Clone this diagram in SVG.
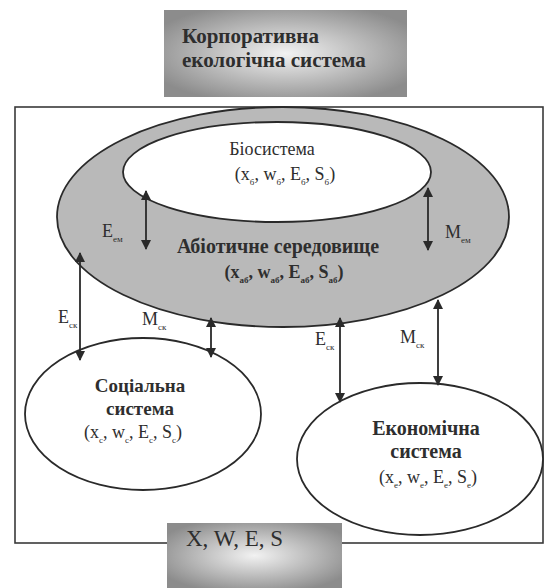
<svg xmlns="http://www.w3.org/2000/svg" width="548" height="588" viewBox="0 0 548 588">
<defs>
<radialGradient id="boxg" cx="50%" cy="50%" r="60%">
<stop offset="0" stop-color="#f2f2f2"/>
<stop offset="0.45" stop-color="#c4c4c4"/>
<stop offset="1" stop-color="#8c8c8c"/>
</radialGradient>
<marker id="ah" viewBox="0 0 10 10" refX="9" refY="5" markerWidth="10" markerHeight="10" markerUnits="userSpaceOnUse" orient="auto-start-reverse">
<path d="M0,0 L10,5 L0,10 z" fill="#2a2a2a"/>
</marker>
<style>
text{font-family:"Liberation Serif","Times New Roman",serif;fill:#2e2e2e}
.b{font-weight:bold}
.sub{font-size:9px}
.edge{stroke:#2a2a2a;stroke-width:1.8;fill:none}
.ol{stroke:#2a2a2a;stroke-width:1.8}
</style>
</defs>
<rect width="548" height="588" fill="#ffffff"/>

<g id="frame">
<rect x="15" y="107" width="528" height="436" fill="none" stroke="#3a3a3a" stroke-width="1.6"/>
</g>

<g id="top-box">
<rect x="164" y="10" width="243" height="87" fill="url(#boxg)"/>
<text class="b" x="182" y="43" font-size="21">Корпоративна</text>
<text class="b" x="182" y="67" font-size="21">екологічна система</text>
</g>

<g id="abiotic">
<ellipse cx="283" cy="217" rx="226" ry="110" fill="#b9b9b9" class="ol"/>
<text class="b" x="278" y="253" font-size="20" text-anchor="middle">Абіотичне  середовище</text>
<text class="b" x="284" y="278" font-size="18" text-anchor="middle">(x<tspan class="sub" dy="5">аб</tspan><tspan dy="-5">, w</tspan><tspan class="sub" dy="5">аб</tspan><tspan dy="-5">, E</tspan><tspan class="sub" dy="5">аб</tspan><tspan dy="-5">, S</tspan><tspan class="sub" dy="5">аб</tspan><tspan dy="-5">)</tspan></text>
</g>

<g id="biosystem">
<ellipse cx="277" cy="172" rx="154" ry="50" fill="#ffffff" class="ol"/>
<text x="272" y="155" font-size="18" text-anchor="middle">Біосистема</text>
<text x="285" y="180" font-size="18" text-anchor="middle">(x<tspan class="sub" dy="5">б</tspan><tspan dy="-5">, w</tspan><tspan class="sub" dy="5">б</tspan><tspan dy="-5">, E</tspan><tspan class="sub" dy="5">б</tspan><tspan dy="-5">, S</tspan><tspan class="sub" dy="5">б</tspan><tspan dy="-5">)</tspan></text>
</g>

<g id="social">
<ellipse cx="143" cy="414" rx="118" ry="76" fill="#ffffff" class="ol"/>
<text class="b" x="140" y="392" font-size="19" text-anchor="middle">Соціальна</text>
<text class="b" x="140" y="415" font-size="19" text-anchor="middle">система</text>
<text x="133" y="438" font-size="18" text-anchor="middle">(x<tspan class="sub" dy="5">с</tspan><tspan dy="-5">, w</tspan><tspan class="sub" dy="5">с</tspan><tspan dy="-5">, E</tspan><tspan class="sub" dy="5">с</tspan><tspan dy="-5">, S</tspan><tspan class="sub" dy="5">с</tspan><tspan dy="-5">)</tspan></text>
</g>

<g id="economic">
<ellipse cx="420" cy="459" rx="123" ry="76" fill="#ffffff" class="ol"/>
<text class="b" x="426" y="435" font-size="20" text-anchor="middle">Економічна</text>
<text class="b" x="426" y="458" font-size="20" text-anchor="middle">система</text>
<text x="428" y="483" font-size="18" text-anchor="middle">(x<tspan class="sub" dy="5">е</tspan><tspan dy="-5">, w</tspan><tspan class="sub" dy="5">е</tspan><tspan dy="-5">, E</tspan><tspan class="sub" dy="5">е</tspan><tspan dy="-5">, S</tspan><tspan class="sub" dy="5">е</tspan><tspan dy="-5">)</tspan></text>
</g>

<g id="bottom-box">
<rect x="167" y="523" width="175" height="65" fill="url(#boxg)"/>
<text x="186" y="546" font-size="23">X, W, E, S</text>
</g>

<g id="connectors">
<line class="edge" x1="146" y1="191" x2="146" y2="249" marker-start="url(#ah)" marker-end="url(#ah)"/>
<line class="edge" x1="428" y1="188" x2="428" y2="250" marker-start="url(#ah)" marker-end="url(#ah)"/>
<line class="edge" x1="80" y1="253" x2="80" y2="360" marker-start="url(#ah)" marker-end="url(#ah)"/>
<line class="edge" x1="211" y1="318" x2="211" y2="357" marker-start="url(#ah)" marker-end="url(#ah)"/>
<line class="edge" x1="340" y1="318" x2="340" y2="402" marker-start="url(#ah)" marker-end="url(#ah)"/>
<line class="edge" x1="438" y1="300" x2="438" y2="385" marker-start="url(#ah)" marker-end="url(#ah)"/>
<text x="102" y="237" font-size="18">E<tspan class="sub" dy="5">ем</tspan></text>
<text x="445" y="238" font-size="18">M<tspan class="sub" dy="5">ем</tspan></text>
<text x="58" y="323" font-size="18">E<tspan class="sub" dy="5">ск</tspan></text>
<text x="142" y="325" font-size="18">M<tspan class="sub" dy="5">ск</tspan></text>
<text x="315" y="345" font-size="18">E<tspan class="sub" dy="5">ск</tspan></text>
<text x="400" y="343" font-size="18">M<tspan class="sub" dy="5">ск</tspan></text>
</g>
</svg>
